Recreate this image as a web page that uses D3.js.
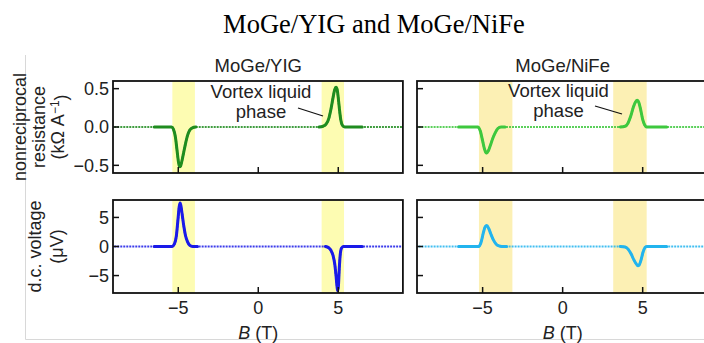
<!DOCTYPE html>
<html>
<head>
<meta charset="utf-8">
<script src="https://cdn.jsdelivr.net/npm/d3@7"></script>
<style>
  html, body { margin: 0; padding: 0; background: #fff; overflow: hidden; }
  svg { display: block; }
  text { font-family: "Liberation Sans", Arial, sans-serif; fill: #222; }
</style>
</head>
<body>
<div id="chart"></div>
<script>
// data
const xTicks = [-5, 0, 5];
const nrTicks = [-0.5, 0.0, 0.5];
const dcTicks = [-5, 0, 5];

// MoGe/YIG nonreciprocal resistance (kOhm/A)
const yigNrB = [-9, -6.5, -5.6, -5.42, -5.3, -5.18, -5.08, -5.0, -4.92, -4.86, -4.78, -4.68, -4.55, -4.42, -4.28, -4.12, -3.9, -2, 0, 2, 3.8, 4.05, 4.25, 4.42, 4.56, 4.68, 4.78, 4.86, 4.93, 5.0, 5.08, 5.16, 5.26, 5.4, 5.6, 6.5, 9];
const yigNrV = [0, 0, 0, 0, -0.03, -0.13, -0.3, -0.44, -0.52, -0.51, -0.45, -0.35, -0.22, -0.11, -0.04, -0.01, 0, 0, 0, 0, 0, 0.01, 0.04, 0.12, 0.25, 0.39, 0.49, 0.52, 0.49, 0.38, 0.22, 0.09, 0.02, 0, 0, 0, 0];

// MoGe/NiFe nonreciprocal resistance
const nifeNrB = [-9, -6.5, -5.5, -5.3, -5.15, -5.0, -4.88, -4.76, -4.64, -4.5, -4.35, -4.2, -4.05, -3.85, -3.6, -2, 0, 2, 3.6, 3.9, 4.08, 4.25, 4.42, 4.56, 4.66, 4.76, 4.88, 5.0, 5.12, 5.25, 5.5, 6.5, 9];
const nifeNrV = [0, 0, 0, 0, -0.05, -0.18, -0.29, -0.34, -0.31, -0.23, -0.14, -0.07, -0.02, 0, 0, 0, 0, 0, 0, 0.01, 0.05, 0.14, 0.26, 0.33, 0.35, 0.32, 0.22, 0.1, 0.03, 0, 0, 0, 0];

// MoGe/YIG d.c. voltage (uV)
const yigDcB = [-9, -6.5, -5.6, -5.38, -5.25, -5.12, -5.02, -4.94, -4.89, -4.84, -4.76, -4.66, -4.55, -4.42, -4.28, -4.1, -3.8, -2, 0, 2, 4.2, 4.4, 4.55, 4.68, 4.78, 4.86, 4.92, 4.96, 5.01, 5.06, 5.12, 5.2, 5.32, 5.5, 6.5, 9];
const yigDcV = [0, 0, 0, 0, 0.4, 1.8, 4.6, 6.9, 7.5, 7.1, 5.6, 3.6, 1.9, 0.8, 0.2, 0, 0, 0, 0, 0, 0, -0.2, -0.7, -1.6, -3.0, -5.0, -6.8, -7.6, -6.8, -4.0, -1.5, -0.3, 0, 0, 0, 0];

// MoGe/NiFe d.c. voltage
const nifeDcB = [-9, -6.5, -5.5, -5.25, -5.1, -4.96, -4.84, -4.74, -4.62, -4.48, -4.32, -4.15, -3.98, -3.8, -3.5, -2, 0, 2, 3.6, 3.9, 4.1, 4.28, 4.45, 4.6, 4.7, 4.78, 4.9, 5.02, 5.14, 5.25, 5.5, 6.5, 9];
const nifeDcV = [0, 0, 0, 0, 0.7, 2.3, 3.4, 3.6, 3.1, 2.1, 1.1, 0.4, 0.1, 0, 0, 0, 0, 0, 0, -0.1, -0.5, -1.3, -2.3, -3.0, -3.3, -3.2, -2.3, -1.0, -0.2, 0, 0, 0, 0];

// vortex liquid phase field windows (T)
const yigBands = [[-5.37, -3.96], [3.96, 5.36]];
const nifeBands = [[-5.23, -3.14], [3.16, 5.25]];
// field ranges that were swept with dense points
const denseRanges = [[-6.55, -2.2], [2.2, 6.55]];

const W = 704, H = 343;
const svg = d3.select("#chart").append("svg")
    .attr("width", W)
    .attr("height", H);

// faint border of the original figure
svg.append("path")
    .attr("d", "M25.5,55 V339.5 H704")
    .attr("fill", "none")
    .attr("stroke", "#d8d8d8")
    .attr("stroke-width", 1);

svg.append("text")
    .attr("x", 374).attr("y", 33)
    .attr("text-anchor", "middle")
    .style("font-family", "'Liberation Serif', 'Times New Roman', serif")
    .style("font-size", "26.5px")
    .style("fill", "#000")
    .text("MoGe/YIG and MoGe/NiFe");

const panels = [
    { title: "MoGe/YIG", left: 113, right: 402.9, dom: [-9.08, 9.04], bands: yigBands, band: "#fdfcb2",
      rows: [ { b: yigNrB, v: yigNrV, color: "#1f8c1f" }, { b: yigDcB, v: yigDcV, color: "#1a1ae8" } ] },
    { title: "MoGe/NiFe", left: 417, right: 708.3, dom: [-9.1, 9.1], bands: nifeBands, band: "#fcf0b4",
      rows: [ { b: nifeNrB, v: nifeNrV, color: "#3ec83e" }, { b: nifeDcB, v: nifeDcV, color: "#22b4ee" } ] }
];

const rowsCfg = [
    { top: 81, bottom: 173, dom: [-0.6, 0.6], ticks: nrTicks, fmt: d3.format(".1f") },
    { top: 200, bottom: 293, dom: [-8, 8], ticks: dcTicks, fmt: d3.format("d") }
];

const minus = s => s.replace("-", "\u2212");

panels.forEach((p, pi) => {
    const x = d3.scaleLinear().domain(p.dom).range([p.left, p.right]);

    svg.append("text")
        .attr("x", x(0)).attr("y", 72)
        .attr("text-anchor", "middle")
        .style("font-size", "18.5px")
        .text(p.title);

    rowsCfg.forEach((rc, ri) => {
        const y = d3.scaleLinear().domain(rc.dom).range([rc.bottom, rc.top]);
        const s = p.rows[ri];
        const g = svg.append("g");

        const clipId = "clip" + pi + ri;
        g.append("clipPath").attr("id", clipId)
            .append("rect")
            .attr("x", p.left).attr("y", rc.top)
            .attr("width", p.right - p.left).attr("height", rc.bottom - rc.top);

        // shaded windows
        g.selectAll("rect.band")
            .data(p.bands)
            .join("rect")
            .attr("class", "band")
            .attr("x", d => x(d[0]))
            .attr("y", rc.top)
            .attr("width", d => x(d[1]) - x(d[0]))
            .attr("height", rc.bottom - rc.top)
            .attr("fill", p.band);

        const pts = s.b.map((b, i) => [b, s.v[i]]);
        const line = d3.line()
            .x(d => x(d[0]))
            .y(d => y(d[1]))
            .curve(d3.curveMonotoneX);

        const plot = g.append("g").attr("clip-path", `url(#${clipId})`);

        // sparse points: dotted trace
        plot.append("path")
            .datum(pts)
            .attr("d", line)
            .attr("fill", "none")
            .attr("stroke", s.color)
            .attr("stroke-width", 2.2)
            .attr("stroke-dasharray", "2,1")
            .attr("opacity", 0.85);

        // dense sweeps: solid thick trace
        denseRanges.forEach(r => {
            const seg = pts.filter(d => d[0] >= r[0] && d[0] <= r[1]);
            plot.append("path")
                .datum(seg)
                .attr("d", line)
                .attr("fill", "none")
                .attr("stroke", s.color)
                .attr("stroke-width", 3)
                .attr("stroke-linejoin", "round")
                .attr("stroke-linecap", "round");
        });

        // inward ticks
        g.selectAll("line.xt")
            .data(xTicks)
            .join("line")
            .attr("x1", d => x(d)).attr("x2", d => x(d))
            .attr("y1", rc.bottom).attr("y2", rc.bottom - 6)
            .attr("stroke", "#111").attr("stroke-width", 1.5);
        g.selectAll("line.yt")
            .data(rc.ticks)
            .join("line")
            .attr("x1", p.left).attr("x2", p.left + 6)
            .attr("y1", d => y(d)).attr("y2", d => y(d))
            .attr("stroke", "#111").attr("stroke-width", 1.5);

        g.append("rect")
            .attr("x", p.left).attr("y", rc.top)
            .attr("width", p.right - p.left).attr("height", rc.bottom - rc.top)
            .attr("fill", "none")
            .attr("stroke", "#111")
            .attr("stroke-width", 1.8);

        if (pi === 0) {
            g.selectAll("text.yl")
                .data(rc.ticks)
                .join("text")
                .attr("x", p.left - 4)
                .attr("y", d => y(d))
                .attr("dy", "0.36em")
                .attr("text-anchor", "end")
                .style("font-size", "18px")
                .text(d => minus(rc.fmt(d)));
        }

        if (ri === 1) {
            g.selectAll("text.xl")
                .data(xTicks)
                .join("text")
                .attr("x", d => x(d))
                .attr("y", 314)
                .attr("text-anchor", "middle")
                .style("font-size", "18px")
                .text(d => minus(d3.format("d")(d)));

            const lab = g.append("text")
                .attr("x", x(0)).attr("y", 339)
                .attr("text-anchor", "middle")
                .style("font-size", "18px");
            lab.append("tspan").style("font-style", "italic").text("B");
            lab.append("tspan").text(" (T)");
        }
    });

    // annotation
    const ax = pi === 0 ? 261 : 558.5;
    const ay = pi === 0 ? 98 : 97;
    svg.append("text").attr("x", ax).attr("y", ay)
        .attr("text-anchor", "middle").style("font-size", "18.5px").text("Vortex liquid");
    svg.append("text").attr("x", ax).attr("y", ay + 20)
        .attr("text-anchor", "middle").style("font-size", "18.5px").text("phase");
    const ld = pi === 0 ? [298, 108, 323, 116] : [595, 106, 622, 114];
    svg.append("line")
        .attr("x1", ld[0]).attr("y1", ld[1]).attr("x2", ld[2]).attr("y2", ld[3])
        .attr("stroke", "#111").attr("stroke-width", 1.2);
});

// y axis titles
const ytitle = (cy, lines) => {
    lines.forEach(l => {
        const t = svg.append("text")
            .attr("transform", `translate(${l.x},${cy}) rotate(-90)`)
            .attr("text-anchor", "middle")
            .style("font-size", "18px");
        l.parts.forEach(pt => {
            const ts = t.append("tspan").text(pt.t);
            if (pt.sup) ts.attr("dy", "-0.45em").style("font-size", "12px");
            if (pt.down) ts.attr("dy", "0.45em");
        });
    });
};
ytitle(127, [
    { x: 26, parts: [{ t: "nonreciprocal" }] },
    { x: 45, parts: [{ t: "resistance" }] },
    { x: 64, parts: [{ t: "(k\u03a9 A" }, { t: "\u22121", sup: true }, { t: ")", down: true }] }
]);
ytitle(246.5, [
    { x: 41, parts: [{ t: "d.c. voltage" }] },
    { x: 63, parts: [{ t: "(\u03bcV)" }] }
]);
</script>
</body>
</html>
